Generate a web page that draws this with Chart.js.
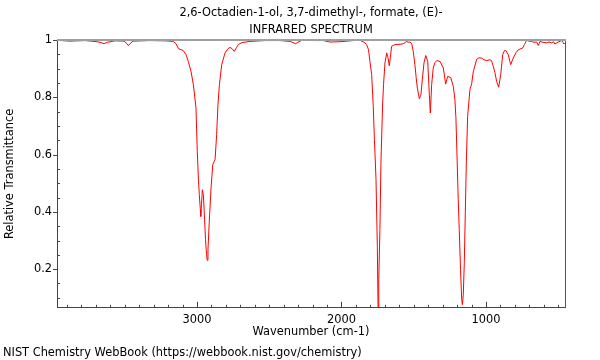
<!DOCTYPE html>
<html><head><meta charset="utf-8">
<script src="https://cdn.jsdelivr.net/npm/chart.js@4.4.1/dist/chart.umd.min.js"></script>
<style>html,body{margin:0;padding:0;background:#fff}#wrap{width:600px;height:360px}</style>
</head><body><div id="wrap"><canvas id="c" width="600" height="360"></canvas></div>
<script>
const titleLines = ["2,6-Octadien-1-ol, 3,7-dimethyl-, formate, (E)-", "INFRARED SPECTRUM"];
const xAxisTitle = "Wavenumber (cm-1)";
const yAxisTitle = "Relative Transmittance";
const footerText = "NIST Chemistry WebBook (https://webbook.nist.gov/chemistry)";
const xTickLabels = [3000, 2000, 1000];
const yTickLabels = [0.2, 0.4, 0.6, 0.8, 1];
const wavenumbers = [3969, 3879, 3775, 3692, 3664, 3643, 3622, 3567, 3505, 3484,
  3475, 3464, 3443, 3325, 3221, 3164, 3145, 3129, 3095, 3076,
  3060, 3041, 3025, 3007, 2998, 2990, 2984, 2977, 2974, 2969,
  2963, 2956, 2949, 2941, 2934, 2929, 2924, 2915, 2903, 2891,
  2882, 2875, 2864, 2855, 2845, 2829, 2806, 2785, 2771, 2758,
  2742, 2727, 2714, 2688, 2633, 2529, 2426, 2356, 2336, 2317,
  2301, 2275, 2183, 2126, 2079, 2010, 1918, 1872, 1849, 1837,
  1826, 1813, 1803, 1791, 1780, 1772, 1761, 1752, 1747, 1742,
  1734, 1727, 1715, 1709, 1699, 1687, 1678, 1669, 1662, 1653,
  1630, 1595, 1572, 1549, 1538, 1526, 1514, 1503, 1491, 1483,
  1475, 1461, 1450, 1441, 1429, 1417, 1403, 1392, 1385, 1376,
  1365, 1353, 1341, 1318, 1295, 1279, 1265, 1244, 1226, 1215,
  1208, 1199, 1192, 1185, 1176, 1168, 1163, 1157, 1150, 1143,
  1136, 1127, 1111, 1099, 1088, 1064, 1048, 1030, 1014, 995,
  972, 962, 949, 938, 926, 912, 898, 884, 872, 862,
  846, 829, 811, 792, 776, 746, 734, 718, 702, 684,
  668, 649, 638, 626, 606, 580, 564, 545, 533, 523,
  500, 476, 467, 460, 455];
const transmittance = [0.999, 0.996, 0.998, 0.994, 0.991, 0.987, 0.992, 0.997, 0.996, 0.987,
  0.980, 0.987, 0.996, 0.998, 0.997, 0.995, 0.987, 0.970, 0.963, 0.949,
  0.925, 0.889, 0.844, 0.763, 0.611, 0.512, 0.460, 0.408, 0.384, 0.425,
  0.477, 0.460, 0.390, 0.303, 0.251, 0.231, 0.268, 0.367, 0.483, 0.565,
  0.575, 0.582, 0.670, 0.774, 0.844, 0.914, 0.955, 0.970, 0.974, 0.970,
  0.960, 0.973, 0.984, 0.991, 0.995, 0.998, 0.998, 0.995, 0.991, 0.987,
  0.992, 0.999, 0.998, 0.998, 0.993, 0.994, 0.998, 0.999, 0.993, 0.990,
  0.984, 0.966, 0.925, 0.879, 0.768, 0.652, 0.512, 0.280, 0.068, 0.163,
  0.338, 0.571, 0.780, 0.844, 0.920, 0.955, 0.938, 0.910, 0.938, 0.978,
  0.984, 0.985, 0.987, 0.995, 0.992, 0.993, 0.987, 0.960, 0.910, 0.868,
  0.832, 0.795, 0.809, 0.861, 0.920, 0.946, 0.925, 0.809, 0.745, 0.844,
  0.902, 0.921, 0.928, 0.925, 0.902, 0.846, 0.873, 0.869, 0.838, 0.792,
  0.729, 0.571, 0.443, 0.338, 0.198, 0.094, 0.076, 0.111, 0.222, 0.397,
  0.571, 0.733, 0.827, 0.847, 0.889, 0.933, 0.938, 0.937, 0.931, 0.928,
  0.931, 0.928, 0.908, 0.886, 0.855, 0.835, 0.879, 0.949, 0.963, 0.963,
  0.949, 0.914, 0.937, 0.956, 0.966, 0.972, 0.984, 0.999, 0.996, 0.995,
  0.992, 0.993, 0.981, 0.995, 0.992, 0.990, 0.993, 0.990, 0.994, 0.986,
  0.993, 0.998, 0.992, 0.986, 0.990];

const FONT = "'DejaVu Sans', sans-serif";
const fs = 11.4;
const points = wavenumbers.map((w, i) => ({x: w, y: transmittance[i]}));

const frameTicks = {
  id: 'frameTicks',
  afterDraw(chart) {
    const {ctx, chartArea: a} = chart;
    const xs = chart.scales.x, ys = chart.scales.y;
    ctx.save();
    ctx.strokeStyle = '#444';
    ctx.lineWidth = 1;
    ctx.beginPath();
    for (const t of xs.ticks) {
      const px = Math.round(xs.getPixelForValue(t.value)) + 0.5;
      const len = xTickLabels.includes(t.value) ? 6 : 3;
      ctx.moveTo(px, a.bottom); ctx.lineTo(px, a.bottom - len);
    }
    for (const t of ys.ticks) {
      const py = Math.round(ys.getPixelForValue(t.value)) + 0.5;
      const major = yTickLabels.some(v => Math.abs(v - t.value) < 1e-6);
      if (major) { ctx.moveTo(a.left - 4, py); ctx.lineTo(a.left, py); }
      else { ctx.moveTo(a.left, py); ctx.lineTo(a.left + 3, py); }
    }
    ctx.stroke();
    ctx.strokeStyle = '#555';
    ctx.beginPath();
    ctx.moveTo(a.right + 0.5, a.top); ctx.lineTo(a.right + 0.5, a.bottom);
    ctx.stroke();
    ctx.strokeStyle = '#a0a0a0';
    ctx.lineWidth = 2;
    ctx.beginPath();
    ctx.moveTo(a.left, a.top); ctx.lineTo(a.right + 1, a.top);
    ctx.stroke();
    ctx.restore();
  }
};

new Chart(document.getElementById('c'), {
  type: 'line',
  data: { datasets: [{ data: points, borderColor: '#ff0000', borderWidth: 1, pointRadius: 0, tension: 0, fill: false }] },
  options: {
    responsive: false, animation: false, devicePixelRatio: 1,
    layout: { padding: { left: 3, right: 35, top: 0, bottom: 0 } },
    plugins: {
      legend: { display: false }, tooltip: { enabled: false },
      title: { display: true, text: titleLines, fullSize: false, color: '#000',
        font: { family: FONT, size: fs, weight: 'normal', lineHeight: '17px' },
        padding: { top: 5, bottom: 1 } },
      subtitle: { display: true, text: footerText, position: 'bottom', align: 'start', color: '#000',
        font: { family: FONT, size: fs, weight: 'normal', lineHeight: 1.2 },
        padding: { top: 0, bottom: 0.6 } }
    },
    scales: {
      x: {
        type: 'linear', reverse: true, min: 453, max: 3969,
        afterFit: s => { s.height = 37.9; },
        border: { display: true, color: '#444', width: 1 },
        grid: { drawOnChartArea: false, drawTicks: false },
        ticks: { stepSize: 100, autoSkip: false, maxRotation: 0, includeBounds: false, padding: 5,
          color: '#000', font: { family: FONT, size: fs },
          callback: v => xTickLabels.includes(v) ? String(v) : '' },
        title: { display: true, text: xAxisTitle, color: '#000', font: { family: FONT, size: fs, lineHeight: 1.2 },
          padding: { top: 0, bottom: 6.5 } }
      },
      y: {
        type: 'linear', min: 0.065, max: 1.0,
        afterFit: s => { s.width = 54; },
        border: { display: true, color: '#444', width: 1 },
        grid: { drawOnChartArea: false, drawTicks: false },
        ticks: { stepSize: 0.05, autoSkip: false, includeBounds: false, padding: 5,
          color: '#000', font: { family: FONT, size: fs },
          callback: v => { const m = yTickLabels.find(t => Math.abs(t - v) < 1e-6); return m === undefined ? '' : String(m); } },
        title: { display: true, text: yAxisTitle, color: '#000', font: { family: FONT, size: fs, lineHeight: 1.2 },
          padding: { top: 0, bottom: 0 } }
      }
    }
  },
  plugins: [frameTicks]
});
</script>
</body></html>
